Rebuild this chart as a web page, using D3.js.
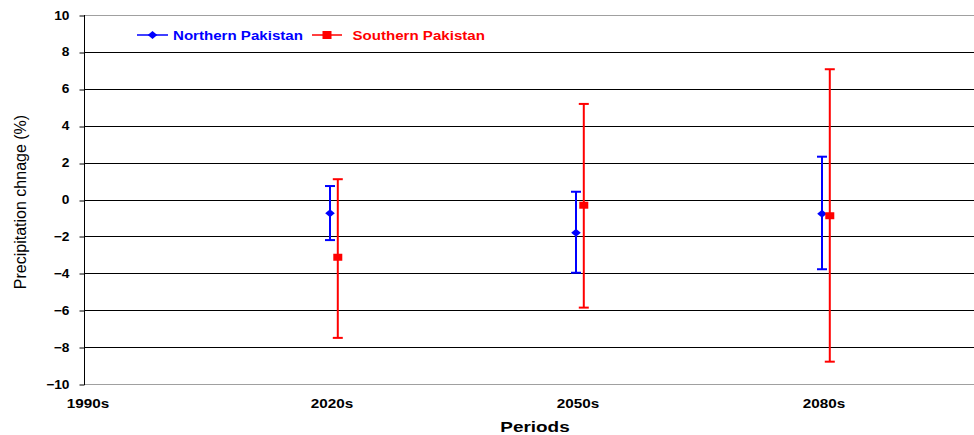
<!DOCTYPE html>
<html>
<head>
<meta charset="utf-8">
<script src="https://cdn.jsdelivr.net/npm/d3@7"></script>
<style>
  html, body { margin: 0; padding: 0; background: #fff; }
  svg { display: block; font-family: Arial, "Liberation Sans", sans-serif; }
</style>
</head>
<body>
<svg id="chart" width="974" height="435"></svg>
<script>
// Projected precipitation change by period, with ranges
const periodLabels = ["1990s", "2020s", "2050s", "2080s"];
const periodYears = [1990, 2020, 2050, 2080];
const yTicks = [10, 8, 6, 4, 2, 0, -2, -4, -6, -8, -10];

const dataYears = [2020, 2050, 2080];
const northMean = [-0.75, -1.8, -0.77];
const northLow = [-2.2, -3.97, -3.78];
const northHigh = [0.73, 0.42, 2.32];
const southMean = [-3.13, -0.31, -0.88];
const southLow = [-7.5, -5.86, -8.79];
const southHigh = [1.1, 5.18, 7.06];

const seriesNames = ["Northern Pakistan", "Southern Pakistan"];
const seriesColors = ["#0000ff", "#ff0000"];
const seriesOffsets = [0, 0.95]; // years, so the two ranges sit side by side

const svg = d3.select("#chart");
const plotLeft = 84, plotTop = 15, plotBottom = 384;

const x = d3.scaleLinear().domain([1990, 2020]).range([plotLeft, 330]);
const y = d3.scaleLinear().domain([-10, 10]).range([plotBottom, plotTop]);

// widen a text element horizontally by a factor, keeping its anchor
function stretch(sel, k) {
  sel.each(function () {
    const w = this.getComputedTextLength();
    d3.select(this).attr("textLength", w * k).attr("lengthAdjust", "spacingAndGlyphs");
  });
}

// horizontal gridlines
svg.append("g").selectAll("line")
  .data(yTicks)
  .join("line")
  .attr("x1", plotLeft).attr("x2", 974)
  .attr("y1", d => Math.round(y(d)) + 0.5).attr("y2", d => Math.round(y(d)) + 0.5)
  .attr("stroke", d => (d === 10 || d === -10) ? "#a0a0a0" : "#000")
  .attr("stroke-width", 1);

// y axis
const yAxis = svg.append("g")
  .attr("transform", `translate(${plotLeft + 0.5},0)`)
  .call(d3.axisLeft(y).tickValues(yTicks).tickSize(5).tickPadding(10).tickFormat(d3.format("d")));
yAxis.select(".domain").attr("stroke", "#000").attr("d", `M0,${plotTop}V${plotBottom + 1}`);
yAxis.selectAll(".tick line").attr("stroke", "#000")
  .attr("transform", d => `translate(0,${Math.round(y(d)) + 0.5 - y(d)})`);
yAxis.selectAll(".tick text")
  .attr("fill", "#000").attr("font-size", "12.5px").attr("font-weight", "bold")
  .attr("font-family", "Arial, 'Liberation Sans', sans-serif")
  .call(stretch, 1.1);

// x axis labels
svg.append("g").selectAll("text")
  .data(periodYears)
  .join("text")
  .attr("x", (d, i) => x(d) + (i === 0 ? 4 : 2))
  .attr("y", 407.5)
  .attr("text-anchor", "middle")
  .attr("font-size", "12.5px").attr("font-weight", "bold")
  .text((d, i) => periodLabels[i])
  .call(stretch, 1.22);

// axis titles
svg.append("text")
  .attr("x", 535).attr("y", 432)
  .attr("text-anchor", "middle")
  .attr("font-size", "15.5px").attr("font-weight", "bold")
  .text("Periods")
  .call(stretch, 1.22);

svg.append("text")
  .attr("transform", "translate(26,202) rotate(-90)")
  .attr("text-anchor", "middle")
  .attr("font-size", "16px")
  .text("Precipitation chnage (%)");

// error ranges and markers
const series = [
  { mean: northMean, low: northLow, high: northHigh },
  { mean: southMean, low: southLow, high: southHigh }
];

const diamond = s => `M0,${-s}L${s * 1.2},0L0,${s}L${-s * 1.2},0Z`;

series.forEach((s, si) => {
  const color = seriesColors[si];
  const g = svg.append("g");
  const pts = dataYears.map((yr, i) => ({
    cx: x(yr + seriesOffsets[si]),
    mean: s.mean[i], low: s.low[i], high: s.high[i]
  }));
  g.selectAll("line.bar").data(pts).join("line").attr("class", "bar")
    .attr("x1", d => d.cx).attr("x2", d => d.cx)
    .attr("y1", d => y(d.low)).attr("y2", d => y(d.high))
    .attr("stroke", color).attr("stroke-width", 2);
  g.selectAll("line.capTop").data(pts).join("line").attr("class", "capTop")
    .attr("x1", d => d.cx - 5).attr("x2", d => d.cx + 5)
    .attr("y1", d => y(d.high)).attr("y2", d => y(d.high))
    .attr("stroke", color).attr("stroke-width", 2);
  g.selectAll("line.capBot").data(pts).join("line").attr("class", "capBot")
    .attr("x1", d => d.cx - 5).attr("x2", d => d.cx + 5)
    .attr("y1", d => y(d.low)).attr("y2", d => y(d.low))
    .attr("stroke", color).attr("stroke-width", 2);
  if (si === 0) {
    g.selectAll("path.mk").data(pts).join("path").attr("class", "mk")
      .attr("d", diamond(4))
      .attr("transform", d => `translate(${d.cx},${y(d.mean)})`)
      .attr("fill", color);
  } else {
    g.selectAll("rect.mk").data(pts).join("rect").attr("class", "mk")
      .attr("x", d => d.cx - 4.5).attr("y", d => y(d.mean) - 3.5)
      .attr("width", 9).attr("height", 7)
      .attr("fill", color);
  }
});

// legend
const legend = svg.append("g").attr("transform", "translate(0,35)");
const legendItems = [
  { x1: 137, x2: 168, textX: 173 },
  { x1: 312, x2: 342, textX: 352.5 }
];
legendItems.forEach((it, i) => {
  const c = seriesColors[i];
  const mid = (it.x1 + it.x2) / 2;
  legend.append("line")
    .attr("x1", it.x1).attr("x2", it.x2).attr("y1", 0).attr("y2", 0)
    .attr("stroke", c).attr("stroke-width", 1.5);
  if (i === 0) {
    legend.append("path").attr("d", diamond(4)).attr("transform", `translate(${mid},0)`).attr("fill", c);
  } else {
    legend.append("rect").attr("x", mid - 4.5).attr("y", -4).attr("width", 9).attr("height", 8).attr("fill", c);
  }
  legend.append("text")
    .attr("x", it.textX).attr("y", 5)
    .attr("font-size", "13px").attr("font-weight", "bold")
    .attr("fill", c)
    .text(seriesNames[i])
    .call(stretch, 1.16);
});
</script>
</body>
</html>
